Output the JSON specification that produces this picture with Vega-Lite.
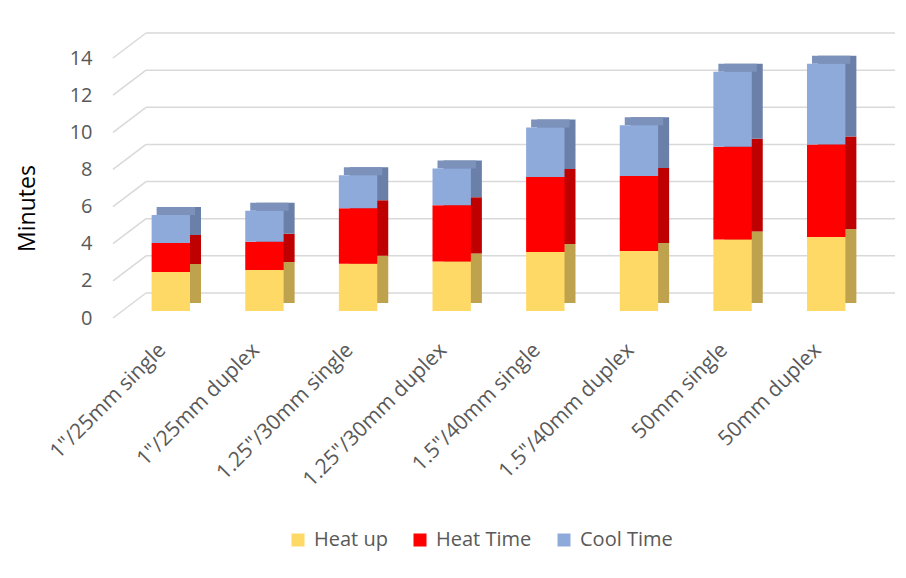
{
  "$schema": "https://vega.github.io/schema/vega-lite/v6.json",
  "autosize": {"type": "none"},
  "padding": {"left": 113, "top": 58, "right": 44, "bottom": 260},
  "width": 749,
  "height": 260,
  "background": "white",
  "config": {
    "view": {"stroke": null},
    "font": "Open Sans",
    "axis": {"labelFont": "Open Sans", "titleFont": "Open Sans", "labelOverlap": false},
    "axisY": {"labelOverlap": false, "tickCount": 8}
  },
  "data": {
    "values": [
      {"cat": "1\"/25mm single", "series": "Heat up", "min": 2.10},
      {"cat": "1\"/25mm single", "series": "Heat Time", "min": 1.56},
      {"cat": "1\"/25mm single", "series": "Cool Time", "min": 1.51},
      {"cat": "1\"/25mm duplex", "series": "Heat up", "min": 2.21},
      {"cat": "1\"/25mm duplex", "series": "Heat Time", "min": 1.52},
      {"cat": "1\"/25mm duplex", "series": "Cool Time", "min": 1.67},
      {"cat": "1.25\"/30mm single", "series": "Heat up", "min": 2.55},
      {"cat": "1.25\"/30mm single", "series": "Heat Time", "min": 2.98},
      {"cat": "1.25\"/30mm single", "series": "Cool Time", "min": 1.78},
      {"cat": "1.25\"/30mm duplex", "series": "Heat up", "min": 2.66},
      {"cat": "1.25\"/30mm duplex", "series": "Heat Time", "min": 3.03},
      {"cat": "1.25\"/30mm duplex", "series": "Cool Time", "min": 1.98},
      {"cat": "1.5\"/40mm single", "series": "Heat up", "min": 3.18},
      {"cat": "1.5\"/40mm single", "series": "Heat Time", "min": 4.04},
      {"cat": "1.5\"/40mm single", "series": "Cool Time", "min": 2.66},
      {"cat": "1.5\"/40mm  duplex", "series": "Heat up", "min": 3.23},
      {"cat": "1.5\"/40mm  duplex", "series": "Heat Time", "min": 4.04},
      {"cat": "1.5\"/40mm  duplex", "series": "Cool Time", "min": 2.73},
      {"cat": "50mm single", "series": "Heat up", "min": 3.85},
      {"cat": "50mm single", "series": "Heat Time", "min": 4.99},
      {"cat": "50mm single", "series": "Cool Time", "min": 4.04},
      {"cat": "50mm duplex", "series": "Heat up", "min": 3.98},
      {"cat": "50mm duplex", "series": "Heat Time", "min": 4.99},
      {"cat": "50mm duplex", "series": "Cool Time", "min": 4.35}
    ]
  },
  "transform": [
    {"stack": "min", "groupby": ["cat"], "sort": [{"field": "series", "order": "descending"}], "as": ["v0", "v1"]}
  ],
  "layer": [
    {
      "data": {"values": [{"t": 0}, {"t": 2}, {"t": 4}, {"t": 6}, {"t": 8}, {"t": 10}, {"t": 12}, {"t": 14}]},
      "transform": [],
      "mark": {"type": "rule", "color": "#d9d9d9", "strokeWidth": 1.5, "xOffset": 5.4, "x2Offset": 60.6, "yOffset": -25, "y2Offset": -25},
      "encoding": {
        "x": {"datum": "1\"/25mm single", "type": "nominal", "bandPosition": 0,
              "scale": {"domain": ["1\"/25mm single", "1\"/25mm duplex", "1.25\"/30mm single", "1.25\"/30mm duplex", "1.5\"/40mm single", "1.5\"/40mm  duplex", "50mm single", "50mm duplex"], "paddingInner": 0.59, "paddingOuter": 0.295},
              "axis": {"title": null, "labelAngle": -45, "domain": false, "ticks": false, "labelFontSize": 21, "labelColor": "#595959", "labelPadding": 21, "labelOffset": -5, "labelLimit": 400}},
        "x2": {"datum": "50mm duplex", "bandPosition": 1},
        "y": {"field": "t", "type": "quantitative", "scale": {"domain": [0, 14], "nice": false},
              "axis": {"values": [0, 2, 4, 6, 8, 10, 12, 14], "grid": false, "domain": false, "ticks": false, "labelOverlap": false,
                       "labelFontSize": 20, "labelColor": "#595959", "labelPadding": 21,
                       "title": "Minutes", "titleFontSize": 23, "titleFontWeight": "normal", "titleColor": "#000000", "titlePadding": 30, "titleY": 150}},
        "y2": {"field": "t"}
      }
    },
    {
      "data": {"values": [{"t": 0}, {"t": 2}, {"t": 4}, {"t": 6}, {"t": 8}, {"t": 10}, {"t": 12}, {"t": 14}]},
      "transform": [],
      "mark": {"type": "rule", "color": "#d9d9d9", "strokeWidth": 1.5, "xOffset": -27.6, "x2Offset": 5.4, "y2Offset": -25},
      "encoding": {
        "x": {"datum": "1\"/25mm single", "type": "nominal", "bandPosition": 0},
        "x2": {"datum": "1\"/25mm single", "bandPosition": 0},
        "y": {"field": "t", "type": "quantitative"},
        "y2": {"field": "t"}
      }
    },
    {
      "mark": {"type": "bar", "xOffset": 22, "x2Offset": 22, "yOffset": -15, "y2Offset": -15},
      "encoding": {
        "x": {"field": "cat", "type": "nominal"},
        "y": {"field": "v0", "type": "quantitative"},
        "y2": {"field": "v1"},
        "color": {"field": "series", "type": "nominal", "legend": null,
                  "scale": {"domain": ["Heat up", "Heat Time", "Cool Time"], "range": ["#bfa24e", "#bf0000", "#6b80a8"]}}
      }
    },
    {
      "transform": [{"filter": "datum.series == 'Cool Time'"}],
      "mark": {"type": "bar", "xOffset": 16, "x2Offset": 16, "yOffset": -15, "y2Offset": -7, "color": "#7c92bb"},
      "encoding": {
        "x": {"field": "cat", "type": "nominal"},
        "y": {"field": "v1", "type": "quantitative"},
        "y2": {"field": "v1"}
      }
    },
    {
      "mark": {"type": "bar", "xOffset": 11, "x2Offset": 11, "yOffset": -7, "y2Offset": -7},
      "encoding": {
        "x": {"field": "cat", "type": "nominal"},
        "y": {"field": "v0", "type": "quantitative"},
        "y2": {"field": "v1"},
        "color": {"field": "series", "type": "nominal",
                  "scale": {"domain": ["Heat up", "Heat Time", "Cool Time"], "range": ["#ffd966", "#ff0000", "#8eaadb"]},
                  "legend": {"title": null, "orient": "none", "direction": "horizontal", "legendX": 175, "legendY": 472,
                             "symbolType": "square", "symbolSize": 169, "symbolStrokeWidth": 0, "labelFontSize": 20, "labelColor": "#595959",
                             "labelOffset": 6, "columnPadding": 22}}
      }
    }
  ],
  "resolve": {"scale": {"color": "independent"}}
}
